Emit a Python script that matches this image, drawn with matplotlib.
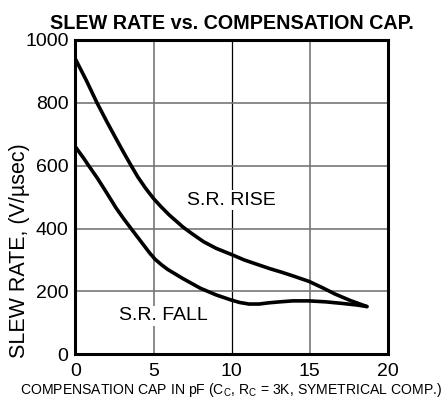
import matplotlib
matplotlib.use("Agg")
import matplotlib.pyplot as plt

# values (pF, V/usec)
rise_cap = [0, 0.7, 1.37, 2.0, 2.6, 3.1, 3.56, 4.0, 4.5, 5.0, 5.5, 6.0, 6.87, 7.5,
            8.2, 9.0, 9.95, 10.8, 11.75, 12.4, 13.2, 14.0, 14.94, 15.8, 16.6, 17.6, 18.65]
rise_sr = [938, 870, 800, 740, 685, 640, 600, 563, 527, 495, 468, 443, 405, 382,
           358, 337, 318, 300, 284, 273, 261, 248, 232, 212, 192, 171, 152]

fall_cap = [0, 0.5, 0.84, 1.4, 1.9, 2.6, 3.1, 3.6, 4.2, 4.75, 5.1, 5.5, 5.9, 6.87, 8.0,
            9.0, 9.95, 10.5, 11.1, 11.75, 12.4, 13.1, 13.9, 14.94, 16.0, 17.06, 18.0, 18.65]
fall_sr = [659, 625, 600, 560, 521, 465, 430, 397, 358, 322, 302, 285, 270, 241, 210,
           189, 173, 165, 160, 160, 164, 167, 170, 170, 167, 162, 157, 152]

xticks = [0, 5, 10, 15, 20]
yticks = [0, 200, 400, 600, 800, 1000]

plt.rcParams['font.family'] = ['Liberation Sans', 'DejaVu Sans']
plt.rcParams['mathtext.default'] = 'regular'

fig = plt.figure(figsize=(4.48, 4.05), dpi=100)
ax = fig.add_axes([0.1685, 0.125, 0.6975, 0.777])

ax.set_xlim(0, 20)
ax.set_ylim(0, 1000)
ax.set_xticks(xticks)
ax.set_yticks(yticks)
ax.tick_params(length=0, labelsize=14)
ax.tick_params(axis='x', pad=6)
ax.tick_params(axis='y', pad=5)

# grid: grey lines, the 10 pF line is thin black in the original
for x in [5, 15]:
    ax.axvline(x, color='#777777', lw=1.2, zorder=1)
ax.axvline(10, color='black', lw=0.9, zorder=1)
for y in [200, 400, 600, 800]:
    ax.axhline(y, color='#777777', lw=1.2, zorder=1)

ax.plot(rise_cap, rise_sr, color='black', lw=2.6, solid_capstyle='round',
        solid_joinstyle='round', zorder=3)
ax.plot(fall_cap, fall_sr, color='black', lw=2.6, solid_capstyle='round',
        solid_joinstyle='round', zorder=3)

for s in ax.spines.values():
    s.set_linewidth(2.2)

ax.text(10, 490, 'S.R. RISE', fontsize=14, ha='center', va='center', zorder=2,
        bbox=dict(facecolor='white', edgecolor='none', pad=1))
ax.text(5.6, 122, 'S.R. FALL', fontsize=14, ha='center', va='center', zorder=2,
        bbox=dict(facecolor='white', edgecolor='none', pad=1))

fig.text(0.518, 0.943, 'SLEW RATE vs. COMPENSATION CAP.',
         fontsize=14.2, fontweight='bold', ha='center', va='center')
ax.set_ylabel('SLEW RATE, (V/µsec)', fontsize=15.5)
ax.yaxis.set_label_coords(-0.146, 0.33)
fig.text(0.515, 0.037, 'COMPENSATION CAP IN pF (C$_C$, R$_C$ = 3K, SYMETRICAL COMP.)',
         fontsize=10.1, ha='center', va='center')

fig.savefig('out.png', dpi=100)
